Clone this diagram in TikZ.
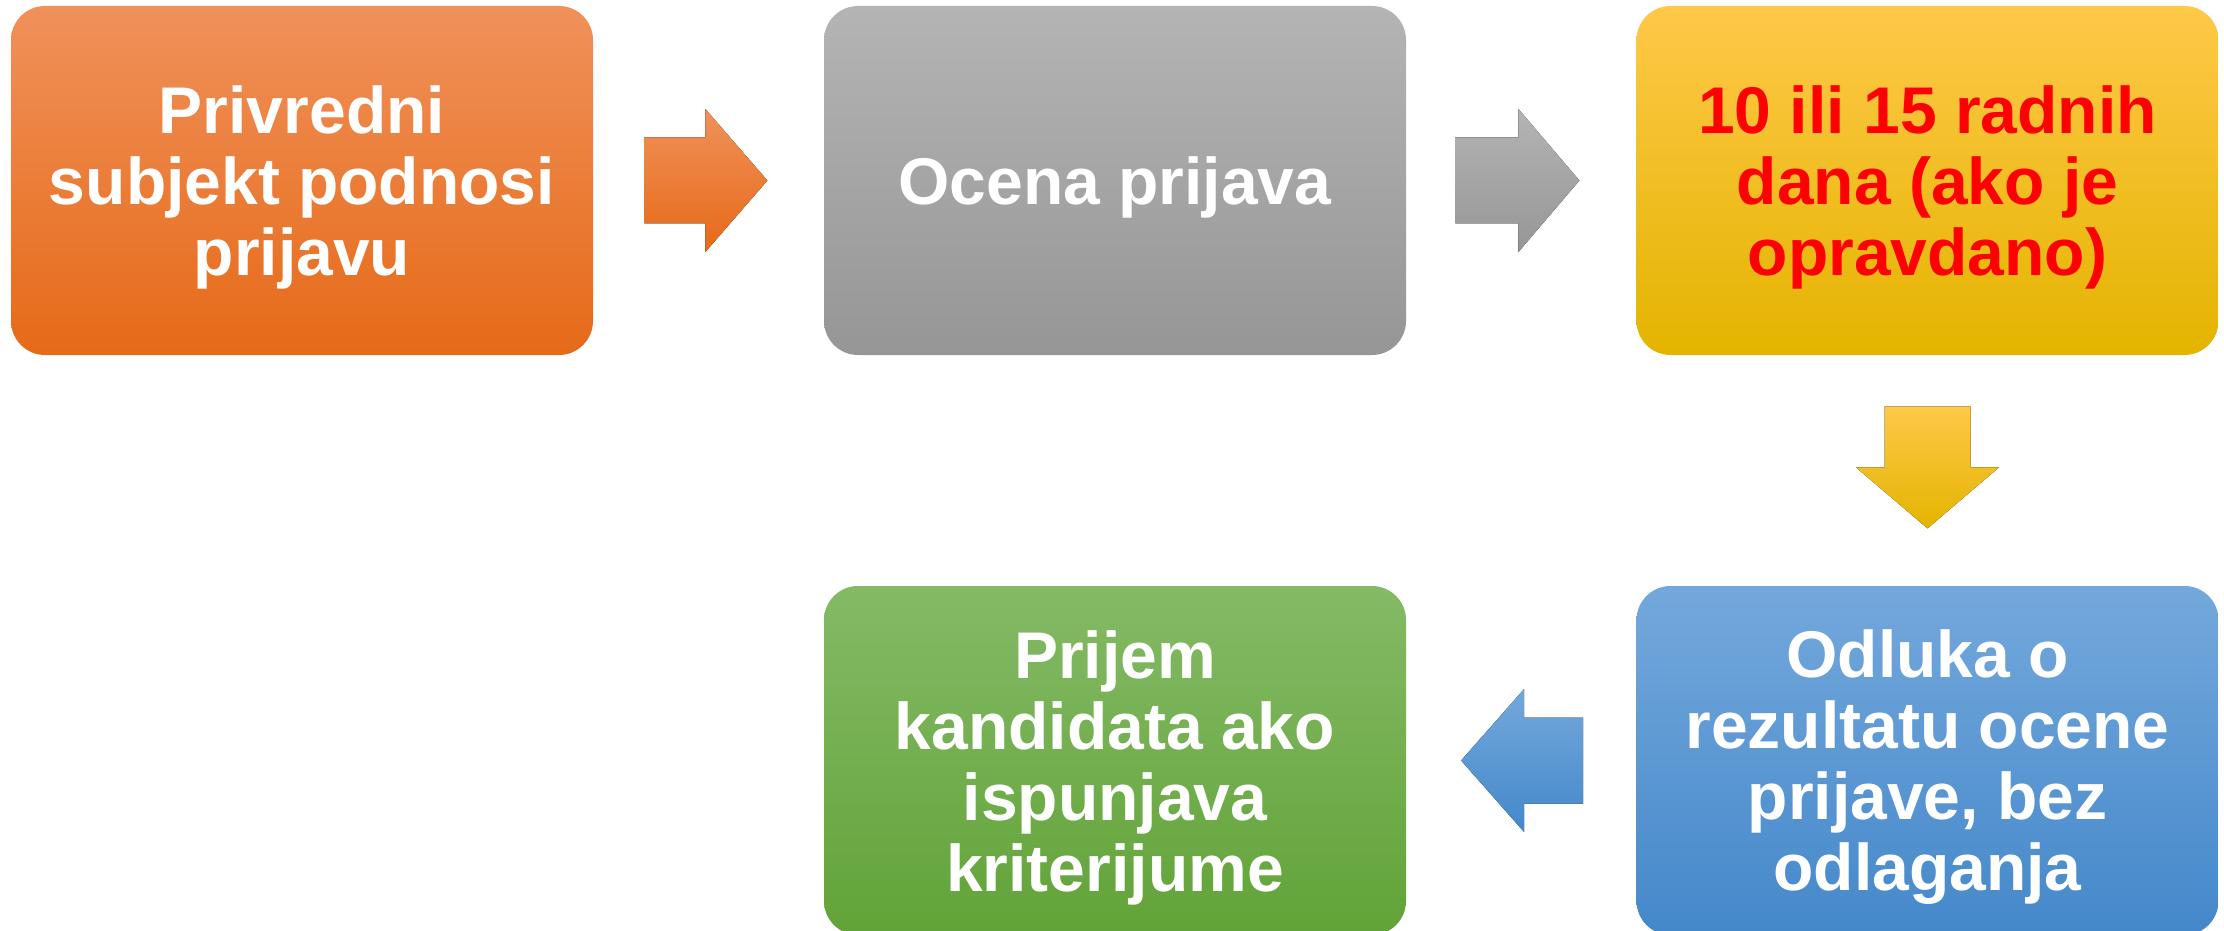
\documentclass[tikz,border=0pt]{standalone}
\usepackage{fontspec}
\setmainfont{Liberation Sans}
\usetikzlibrary{calc}
\definecolor{orT}{RGB}{240,145,90}
\definecolor{orM}{RGB}{243,123,40}
\definecolor{orB}{RGB}{230,106,24}
\definecolor{grT}{RGB}{180,180,180}
\definecolor{grM}{RGB}{164,164,164}
\definecolor{grB}{RGB}{150,150,150}
\definecolor{yeT}{RGB}{255,200,72}
\definecolor{yeM}{RGB}{255,198,0}
\definecolor{yeB}{RGB}{228,180,0}
\definecolor{blT}{RGB}{116,168,220}
\definecolor{blM}{RGB}{88,154,215}
\definecolor{blB}{RGB}{68,136,202}
\definecolor{gnT}{RGB}{132,186,102}
\definecolor{gnM}{RGB}{112,176,64}
\definecolor{gnB}{RGB}{98,163,56}
\definecolor{txtred}{RGB}{255,0,0}
\tikzset{
  stepbox/.style={rectangle, rounded corners=17pt, minimum width=291pt, minimum height=174.5pt,
    inner sep=0pt},
  steptext/.style={inner sep=0pt, align=center, text=white, yshift=-3.5pt,
    font=\fontsize{33}{35.5}\selectfont\bfseries},
  orangefill/.style={top color=orT, middle color=orM, bottom color=orB},
  grayfill/.style={top color=grT, middle color=grM, bottom color=grB},
  yellowfill/.style={top color=yeT, middle color=yeM, bottom color=yeB},
  bluefill/.style={top color=blT, middle color=blM, bottom color=blB},
  greenfill/.style={top color=gnT, middle color=gnM, bottom color=gnB},
}
\begin{document}
\begin{tikzpicture}[x=0.5pt,y=-0.5pt]
\useasboundingbox (0,0) rectangle (2224,931);
\clip (0,0) rectangle (2224,931);
\node[stepbox, orangefill, label={[steptext]center:Privredni\\subjekt podnosi\\prijavu}] (b1) at (302,180.5) {};
\node[stepbox, grayfill, label={[steptext]center:Ocena prijava}] (b2) at (1115,180.5) {};
\node[stepbox, yellowfill, label={[steptext, text=txtred]center:10 ili 15 radnih\\dana (ako je\\opravdano)}] (b3) at (1927.5,180.5) {};
\node[stepbox, bluefill, label={[steptext]center:Odluka o\\rezultatu ocene\\prijave, bez\\odlaganja}] (b5) at (1927.5,760.5) {};
\node[stepbox, greenfill, label={[steptext]center:Prijem\\kandidata ako\\ispunjava\\kriterijume}] (b4) at (1115,760.5) {};
% right arrows
\fill[orangefill] ($(b1.east)+(51,-43)$) -- ++(61,0) -- ++(0,-28.5) -- ++(62,71.5) -- ++(-62,71.5) -- ++(0,-28.5) -- ++(-61,0) -- cycle;
\fill[grayfill] ($(b2.east)+(49,-43)$) -- ++(63,0) -- ++(0,-28.5) -- ++(61,71.5) -- ++(-61,71.5) -- ++(0,-28.5) -- ++(-63,0) -- cycle;
% down arrow
\fill[yellowfill] ($(b3.south)+(-43,51)$) -- ++(86,0) -- ++(0,61) -- ++(28.5,0) -- ++(-71.5,61) -- ++(-71.5,-61) -- ++(28.5,0) -- cycle;
% left arrow
\fill[bluefill] ($(b5.west)+(-53,-43)$) -- ++(-59,0) -- ++(0,-28.5) -- ++(-63,71.5) -- ++(63,71.5) -- ++(0,-28.5) -- ++(59,0) -- cycle;
\end{tikzpicture}
\end{document}
